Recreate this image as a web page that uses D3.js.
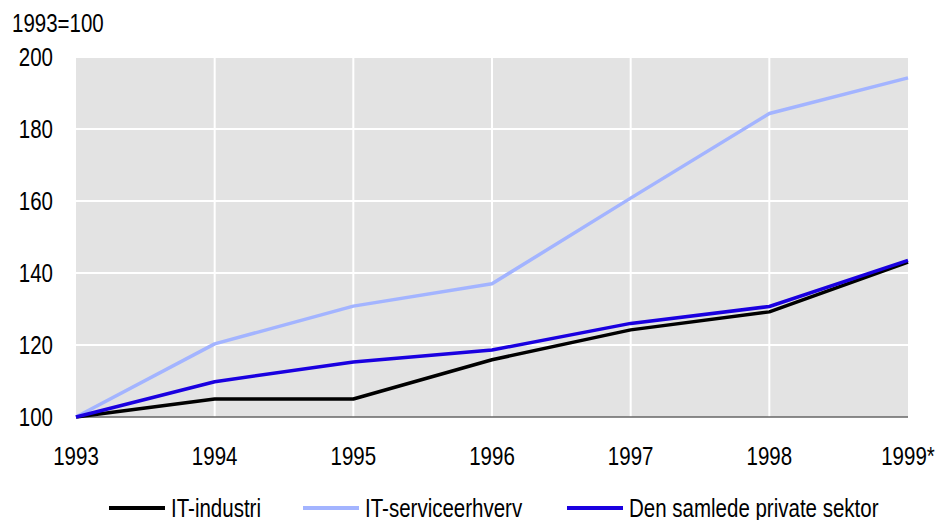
<!DOCTYPE html>
<html>
<head>
<meta charset="utf-8">
<script src="https://cdn.jsdelivr.net/npm/d3@7"></script>
<style>
  body { margin: 0; background: #fff; }
  svg text { font-family: "Liberation Sans", Arial, sans-serif; font-size: 25px; fill: #000; }
</style>
</head>
<body>
<div id="chart"></div>
<script>
// Data (index, 1993=100)
const years = ["1993", "1994", "1995", "1996", "1997", "1998", "1999*"];
const itIndustri = [100, 105, 105, 115.9, 124.2, 129.2, 143];
const itService = [100, 120.3, 130.8, 137, 160.8, 184.3, 194.2];
const privatSektor = [100, 109.8, 115.3, 118.6, 126, 130.7, 143.5];
const yTicks = [100, 120, 140, 160, 180, 200];

const series = [
    { name: "IT-industri", values: itIndustri, color: "#000000" },
    { name: "IT-serviceerhverv", values: itService, color: "#a3b4ff" },
    { name: "Den samlede private sektor", values: privatSektor, color: "#1a00e0" }
];

const W = 938, H = 520;
const margin = { top: 57, right: 30, bottom: 103, left: 76 },
      width = W - margin.left - margin.right,
      height = H - margin.top - margin.bottom;

// the original uses a narrow sans; squeeze horizontally
const narrow = 0.82;
const pos = (px, py) => `translate(${px}, ${py}) scale(${narrow}, 1)`;

const svg = d3.select("#chart").append("svg")
    .attr("width", W)
    .attr("height", H);

const g = svg.append("g")
    .attr("transform", `translate(${margin.left}, ${margin.top})`);

const x = d3.scalePoint()
    .domain(years)
    .range([0, width]);

const y = d3.scaleLinear()
    .domain([100, 200])
    .range([height, 0]);

// plot background
g.append("rect")
    .attr("width", width)
    .attr("height", height)
    .attr("fill", "#e3e3e3");

// gridlines
g.selectAll(".hgrid")
    .data(yTicks.slice(1))
    .enter().append("line")
    .attr("x1", 0).attr("x2", width)
    .attr("y1", d => y(d)).attr("y2", d => y(d))
    .attr("stroke", "#fff")
    .attr("stroke-width", 2);

g.selectAll(".vgrid")
    .data(years.slice(1, -1))
    .enter().append("line")
    .attr("x1", d => x(d)).attr("x2", d => x(d))
    .attr("y1", 0).attr("y2", height)
    .attr("stroke", "#fff")
    .attr("stroke-width", 2);

// bottom axis line
g.append("line")
    .attr("x1", 0).attr("x2", width)
    .attr("y1", height).attr("y2", height)
    .attr("stroke", "#666")
    .attr("stroke-width", 1.5);

// y labels
g.selectAll(".ylab")
    .data(yTicks)
    .enter().append("text")
    .attr("transform", d => pos(-23, y(d)))
    .attr("dy", "0.36em")
    .attr("text-anchor", "end")
    .text(d => d);

// x labels
g.selectAll(".xlab")
    .data(years)
    .enter().append("text")
    .attr("transform", d => pos(x(d), height + 48))
    .attr("text-anchor", "middle")
    .text(d => d);

// unit label
svg.append("text")
    .attr("transform", pos(12, 32))
    .text("1993=100");

// lines
const line = d3.line()
    .x((d, i) => x(years[i]))
    .y(d => y(d));

series.forEach(s => {
    g.append("path")
        .datum(s.values)
        .attr("fill", "none")
        .attr("stroke", s.color)
        .attr("stroke-width", 3.5)
        .attr("stroke-linejoin", "round")
        .attr("d", line);
});

// legend
const legendX = [109, 303, 567];
const legend = svg.selectAll(".legend")
    .data(series)
    .enter().append("g")
    .attr("transform", (d, i) => `translate(${legendX[i]}, 508)`);

legend.append("line")
    .attr("x1", 0).attr("x2", 56)
    .attr("y1", 0).attr("y2", 0)
    .attr("stroke", d => d.color)
    .attr("stroke-width", 4);

legend.append("text")
    .attr("transform", pos(62, 9))
    .text(d => d.name);
</script>
</body>
</html>
